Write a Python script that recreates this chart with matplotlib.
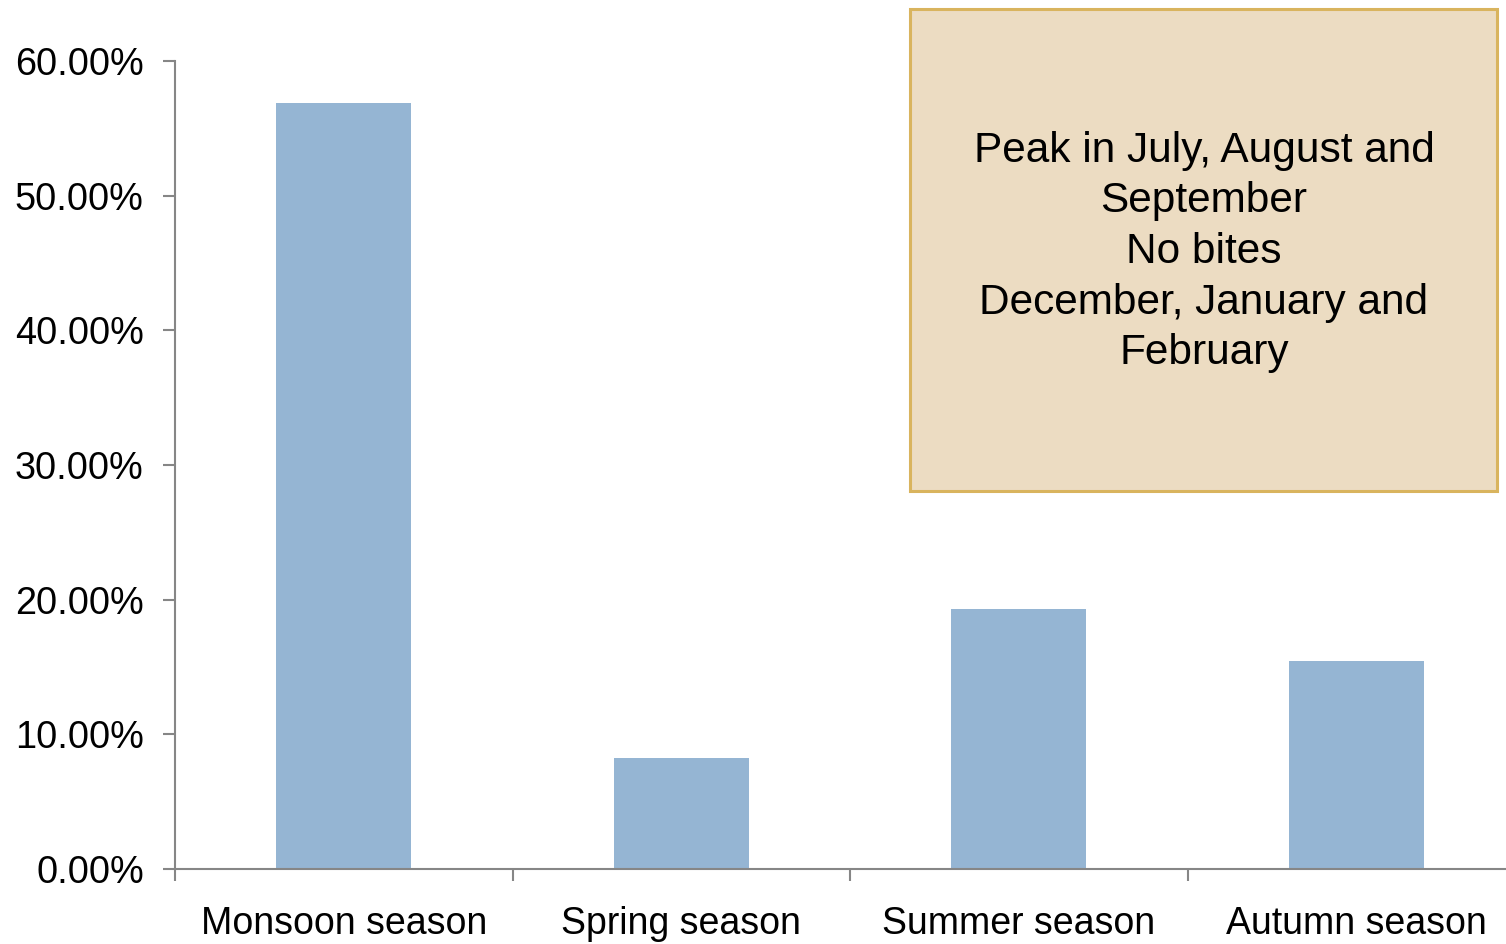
import matplotlib.pyplot as plt
from matplotlib.patches import Rectangle
from matplotlib.ticker import FixedLocator, PercentFormatter

plt.rcParams['font.family'] = ['Liberation Sans', 'DejaVu Sans']

# share of bites per season
seasons = ['Monsoon season', 'Spring season', 'Summer season', 'Autumn season']
bite_share = [0.569, 0.0825, 0.193, 0.1545]
note = 'Peak in July, August and\nSeptember\nNo bites\nDecember, January and\nFebruary'

W, H = 1506, 944
fig = plt.figure(figsize=(W / 100, H / 100), dpi=100)
ax = fig.add_axes([175 / W, 75 / H, 1350 / W, 808 / H])

ax.bar(range(len(seasons)), bite_share, width=0.4, color='#95B5D3', zorder=2)

ax.set_xlim(-0.5, len(seasons) - 0.5)
ax.set_ylim(0, 0.6)
ax.set_yticks([i / 10 for i in range(7)])
ax.yaxis.set_major_formatter(PercentFormatter(1.0, decimals=2))
ax.set_xticks(range(len(seasons)))
ax.set_xticklabels(seasons)
ax.xaxis.set_minor_locator(FixedLocator([i - 0.5 for i in range(len(seasons) + 1)]))

grey = '#868686'
for s in ['top', 'right']:
    ax.spines[s].set_visible(False)
for s in ['left', 'bottom']:
    ax.spines[s].set_color(grey)
    ax.spines[s].set_linewidth(1.5)
ax.tick_params(axis='y', length=8.5, width=1.5, color=grey, pad=14, labelsize=27.3)
ax.tick_params(axis='x', which='major', length=0, pad=27, labelsize=27)
ax.tick_params(axis='x', which='minor', length=8.5, width=1.5, color=grey)

# annotation box in the upper right
fig.patches.append(Rectangle((910 / W, 1 - 491 / H), 587 / W, 482 / H,
                             transform=fig.transFigure, facecolor='#ECDCC2',
                             edgecolor='#D9B45E', linewidth=2.2, zorder=3))
fig.text(1204 / W, 1 - 252 / H, note, ha='center', va='center',
         fontsize=30.5, linespacing=1.34, zorder=4)

fig.savefig('out.png', dpi=100)
